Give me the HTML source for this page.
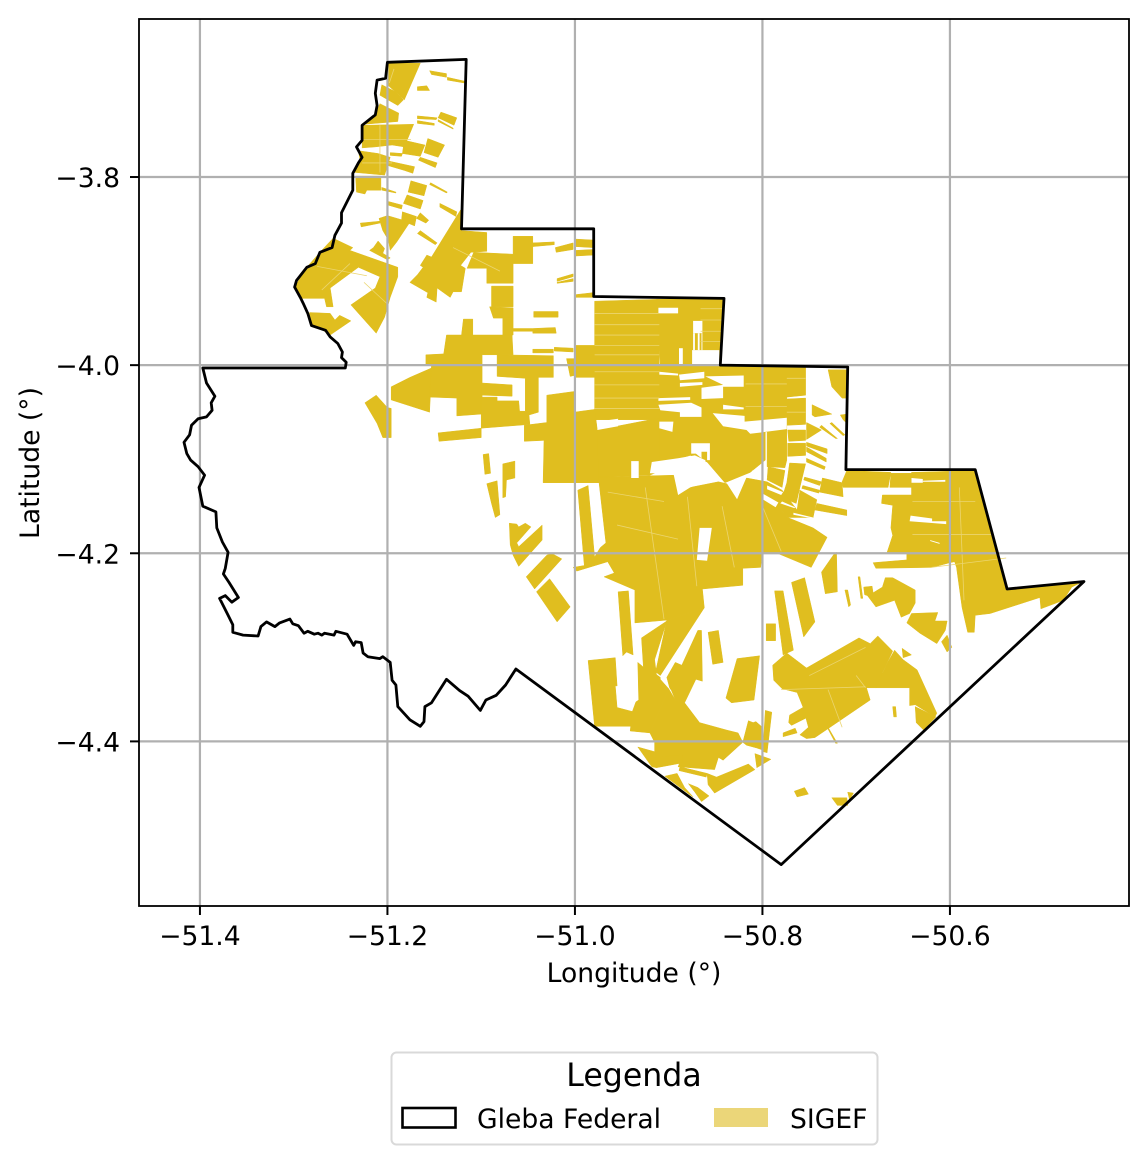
<!DOCTYPE html>
<html lang="en">
<head>
<meta charset="utf-8">
<title>Gleba Federal and SIGEF parcels</title>
<style>
html,body{margin:0;padding:0;background:#fff;}
body{width:1148px;height:1163px;overflow:hidden;}
svg{display:block;font-family:"DejaVu Sans","Liberation Sans",sans-serif;}
text{fill:#000;}
</style>
</head>
<body>
<svg id="chart" xmlns="http://www.w3.org/2000/svg" width="1148" height="1163" viewBox="0 0 1148 1163">
  <rect x="0" y="0" width="1148" height="1163" fill="#fff"/>
  <g id="parcel-layer"></g>
  <g id="grid-layer"></g>
  <g id="boundary-layer"></g>
  <rect x="139" y="19" width="990" height="887" fill="none" stroke="#000" stroke-width="1.8"/>
  <g id="tick-layer" font-size="26.6"></g>
  <text x="634" y="982" font-size="26.6" text-anchor="middle">Longitude (°)</text>
  <text x="39" y="463" font-size="26.6" text-anchor="middle" transform="rotate(-90 39 463)">Latitude (°)</text>
  <g>
    <rect x="391.5" y="1052.5" width="486" height="92" rx="5" ry="5" fill="#fff" stroke="#d9d9d9" stroke-width="2"/>
    <text x="634" y="1086" font-size="31.6" text-anchor="middle">Legenda</text>
    <rect x="402.5" y="1108" width="53" height="19.5" fill="none" stroke="#000" stroke-width="2.6"/>
    <text x="477" y="1128" font-size="26.6">Gleba Federal</text>
    <rect x="714" y="1108" width="54" height="19" fill="#ebd679"/>
    <text x="790" y="1128" font-size="26.6">SIGEF</text>
  </g>
</svg>
<script>
// Axis limits (degrees)
const lonLimits = [-51.465, -50.409];
const latLimits = [-4.575, -3.632];
// Tick values and printed labels
const lonTicks = [-51.4, -51.2, -51.0, -50.8, -50.6];
const lonTickLabels = ["\u221251.4", "\u221251.2", "\u221251.0", "\u221250.8", "\u221250.6"];
const latTicks = [-3.8, -4.0, -4.2, -4.4];
const latTickLabels = ["\u22123.8", "\u22124.0", "\u22124.2", "\u22124.4"];

// Gleba Federal outline: lon, lat, lon, lat...
const glebaOutline = [-51.200,-3.678,-51.116,-3.675,-51.121,-3.855,-50.980,-3.855,-50.980,-3.927,-50.841,-3.929,-50.845,-4.000,-50.709,-4.002,-50.711,-4.111,-50.573,-4.111,-50.539,-4.238,-50.457,-4.230,-50.780,-4.531,-51.063,-4.323,-51.074,-4.340,-51.084,-4.351,-51.095,-4.356,-51.101,-4.367,-51.114,-4.352,-51.123,-4.346,-51.137,-4.334,-51.153,-4.359,-51.160,-4.363,-51.161,-4.379,-51.165,-4.384,-51.176,-4.377,-51.189,-4.363,-51.191,-4.340,-51.195,-4.335,-51.197,-4.316,-51.205,-4.310,-51.208,-4.312,-51.221,-4.310,-51.226,-4.306,-51.228,-4.295,-51.234,-4.294,-51.236,-4.298,-51.243,-4.286,-51.255,-4.283,-51.257,-4.287,-51.267,-4.285,-51.270,-4.287,-51.274,-4.285,-51.278,-4.286,-51.285,-4.283,-51.289,-4.285,-51.295,-4.277,-51.301,-4.275,-51.304,-4.270,-51.315,-4.274,-51.320,-4.278,-51.329,-4.273,-51.335,-4.278,-51.338,-4.288,-51.354,-4.287,-51.365,-4.284,-51.365,-4.276,-51.370,-4.266,-51.379,-4.248,-51.373,-4.245,-51.366,-4.252,-51.359,-4.247,-51.369,-4.231,-51.375,-4.222,-51.373,-4.216,-51.370,-4.199,-51.376,-4.188,-51.382,-4.173,-51.383,-4.156,-51.397,-4.150,-51.401,-4.130,-51.395,-4.117,-51.402,-4.108,-51.410,-4.101,-51.414,-4.094,-51.417,-4.082,-51.411,-4.074,-51.409,-4.064,-51.402,-4.057,-51.393,-4.055,-51.387,-4.048,-51.388,-4.040,-51.384,-4.033,-51.393,-4.019,-51.397,-4.003,-51.245,-4.003,-51.244,-3.997,-51.249,-3.992,-51.248,-3.986,-51.253,-3.977,-51.261,-3.970,-51.266,-3.963,-51.281,-3.958,-51.285,-3.945,-51.290,-3.934,-51.293,-3.928,-51.299,-3.917,-51.297,-3.910,-51.286,-3.896,-51.277,-3.892,-51.272,-3.880,-51.259,-3.875,-51.256,-3.862,-51.249,-3.849,-51.249,-3.838,-51.237,-3.814,-51.237,-3.796,-51.231,-3.785,-51.227,-3.779,-51.233,-3.768,-51.227,-3.761,-51.227,-3.745,-51.213,-3.734,-51.211,-3.724,-51.213,-3.711,-51.211,-3.697,-51.202,-3.695];

// SIGEF parcels: each entry is lon, lat, lon, lat...
const northwestParcels = [
[-51.200,-3.679,-51.165,-3.679,-51.182,-3.718,-51.200,-3.702],
[-51.206,-3.702,-51.192,-3.709,-51.183,-3.718,-51.189,-3.724,-51.208,-3.713],
[-51.208,-3.722,-51.188,-3.732,-51.189,-3.741,-51.225,-3.744,-51.213,-3.734],
[-51.226,-3.745,-51.172,-3.744,-51.182,-3.768,-51.195,-3.766,-51.213,-3.768,-51.227,-3.769],
[-51.231,-3.772,-51.210,-3.775,-51.197,-3.779,-51.203,-3.798,-51.236,-3.795,-51.229,-3.784],
[-51.234,-3.799,-51.207,-3.799,-51.207,-3.814,-51.222,-3.814,-51.224,-3.818,-51.233,-3.816],
[-51.155,-3.687,-51.137,-3.690,-51.137,-3.694,-51.153,-3.691],
[-51.136,-3.694,-51.118,-3.698,-51.118,-3.700,-51.136,-3.697],
[-51.168,-3.704,-51.158,-3.703,-51.155,-3.708,-51.168,-3.708],
[-51.168,-3.735,-51.147,-3.737,-51.148,-3.739,-51.168,-3.738],
[-51.168,-3.740,-51.150,-3.743,-51.150,-3.745,-51.168,-3.743],
[-51.143,-3.731,-51.126,-3.737,-51.129,-3.745,-51.146,-3.737],
[-51.146,-3.739,-51.130,-3.748,-51.130,-3.749,-51.146,-3.741],
[-51.182,-3.761,-51.160,-3.766,-51.165,-3.778,-51.184,-3.775],
[-51.157,-3.759,-51.139,-3.766,-51.146,-3.779,-51.161,-3.774],
[-51.165,-3.779,-51.147,-3.785,-51.149,-3.790,-51.167,-3.782],
[-51.199,-3.783,-51.171,-3.789,-51.173,-3.796,-51.182,-3.793,-51.199,-3.788],
[-51.197,-3.774,-51.184,-3.775,-51.185,-3.778,-51.197,-3.777],
[-51.175,-3.804,-51.158,-3.809,-51.161,-3.820,-51.178,-3.816],
[-51.154,-3.806,-51.136,-3.816,-51.137,-3.817,-51.155,-3.808],
[-51.179,-3.819,-51.162,-3.825,-51.165,-3.834,-51.183,-3.828],
[-51.199,-3.826,-51.184,-3.830,-51.185,-3.834,-51.199,-3.830],
[-51.206,-3.811,-51.191,-3.816,-51.191,-3.817,-51.206,-3.814],
[-51.184,-3.837,-51.169,-3.842,-51.171,-3.852,-51.185,-3.846],
[-51.165,-3.838,-51.156,-3.846,-51.159,-3.849,-51.169,-3.844],
[-51.165,-3.857,-51.147,-3.870,-51.149,-3.872,-51.168,-3.860],
[-51.144,-3.828,-51.126,-3.837,-51.127,-3.842,-51.144,-3.832],
[-51.229,-3.849,-51.208,-3.847,-51.208,-3.849,-51.228,-3.853],
[-51.209,-3.844,-51.200,-3.841,-51.176,-3.848,-51.190,-3.869,-51.197,-3.878,-51.199,-3.867,-51.205,-3.857],
[-51.210,-3.868,-51.203,-3.876,-51.205,-3.881,-51.197,-3.886,-51.200,-3.888,-51.219,-3.878,-51.215,-3.875],
[-51.258,-3.865,-51.237,-3.875,-51.240,-3.878,-51.189,-3.896,-51.189,-3.906,-51.197,-3.928,-51.203,-3.949,-51.212,-3.966,-51.239,-3.936,-51.213,-3.918,-51.208,-3.906,-51.231,-3.896,-51.261,-3.918,-51.258,-3.938,-51.265,-3.938,-51.267,-3.929,-51.291,-3.929,-51.299,-3.917,-51.286,-3.896,-51.272,-3.880],
[-51.283,-3.944,-51.261,-3.945,-51.256,-3.952,-51.251,-3.947,-51.239,-3.953,-51.261,-3.968,-51.269,-3.963,-51.281,-3.958]
];
const northCentralParcels = [
[-51.122,-3.835,-51.121,-3.857,-51.094,-3.859,-51.094,-3.879,-51.111,-3.880,-51.122,-3.894,-51.117,-3.897,-51.121,-3.922,-51.130,-3.922,-51.133,-3.928,-51.147,-3.918,-51.148,-3.933,-51.158,-3.928,-51.157,-3.923,-51.176,-3.912,-51.168,-3.904,-51.162,-3.896,-51.165,-3.894,-51.158,-3.883,-51.153,-3.885],
[-51.108,-3.880,-51.066,-3.882,-51.066,-3.913,-51.094,-3.913,-51.094,-3.897,-51.115,-3.897],
[-51.066,-3.863,-51.045,-3.863,-51.045,-3.892,-51.066,-3.892],
[-51.045,-3.870,-51.022,-3.869,-51.022,-3.872,-51.045,-3.874],
[-51.021,-3.875,-51.002,-3.870,-51.002,-3.877,-51.020,-3.880],
[-50.999,-3.866,-50.981,-3.867,-50.981,-3.875,-50.999,-3.874],
[-50.999,-3.878,-50.981,-3.877,-50.981,-3.883,-50.999,-3.884],
[-51.019,-3.908,-51.002,-3.903,-51.002,-3.906,-51.019,-3.911],
[-51.019,-3.912,-51.002,-3.908,-51.002,-3.911,-51.019,-3.913],
[-50.999,-3.925,-50.981,-3.923,-50.981,-3.928,-50.999,-3.928],
[-51.089,-3.916,-51.066,-3.916,-51.066,-3.938,-51.089,-3.938],
[-51.091,-3.938,-51.066,-3.939,-51.066,-3.950,-51.087,-3.950],
[-51.077,-3.950,-51.066,-3.950,-51.066,-3.968,-51.077,-3.968],
[-51.044,-3.943,-51.018,-3.943,-51.018,-3.949,-51.044,-3.949],
[-51.066,-3.961,-51.045,-3.961,-51.045,-3.964,-51.066,-3.964],
[-51.045,-3.961,-51.021,-3.960,-51.020,-3.966,-51.045,-3.966],
[-51.119,-3.951,-51.109,-3.951,-51.109,-3.968,-51.121,-3.968],
[-51.137,-3.968,-51.067,-3.968,-51.066,-3.989,-51.099,-3.989,-51.099,-4.000,-51.159,-3.999,-51.159,-3.989,-51.140,-3.988],
[-51.153,-4.003,-51.155,-4.050,-51.196,-4.037,-51.196,-4.023,-51.176,-4.013],
[-51.153,-4.000,-51.099,-4.000,-51.099,-4.034,-51.100,-4.052,-51.126,-4.054,-51.126,-4.035,-51.155,-4.034],
[-51.099,-4.019,-51.067,-4.021,-51.067,-4.033,-51.099,-4.032],
[-51.083,-3.989,-51.023,-3.990,-51.023,-4.013,-51.039,-4.013,-51.039,-4.050,-51.049,-4.053,-51.048,-4.063,-51.100,-4.067,-51.100,-4.034,-51.083,-4.034,-51.083,-4.038,-51.060,-4.038,-51.059,-4.049,-51.053,-4.049,-51.053,-4.014,-51.083,-4.012],
[-51.045,-3.983,-51.023,-3.983,-51.023,-3.987,-51.045,-3.987],
[-51.022,-3.981,-51.002,-3.982,-51.002,-3.986,-51.022,-3.985],
[-51.009,-3.993,-51.001,-3.993,-51.001,-4.011,-51.005,-4.012],
[-51.000,-3.979,-50.979,-3.979,-50.979,-4.013,-51.000,-4.013]
];
const centralParcels = [
[-50.979,-3.932,-50.910,-3.930,-50.910,-4.058,-50.979,-4.058],
[-51.030,-4.032,-51.001,-4.028,-51.001,-4.050,-50.979,-4.047,-50.976,-4.069,-50.909,-4.058,-50.909,-4.069,-50.973,-4.125,-51.034,-4.125,-51.033,-4.080,-51.054,-4.081,-51.054,-4.064,-51.030,-4.061],
[-50.976,-4.069,-50.909,-4.056,-50.909,-4.112,-50.920,-4.117,-50.975,-4.119],
[-50.975,-4.119,-50.894,-4.117,-50.890,-4.138,-50.877,-4.130,-50.847,-4.124,-50.838,-4.126,-50.827,-4.143,-50.800,-4.147,-50.783,-4.151,-50.773,-4.162,-50.746,-4.173,-50.731,-4.183,-50.748,-4.215,-50.784,-4.200,-50.800,-4.200,-50.802,-4.215,-50.821,-4.216,-50.821,-4.234,-50.864,-4.238,-50.862,-4.258,-50.902,-4.271,-50.936,-4.274,-50.936,-4.239,-50.969,-4.225,-50.958,-4.221,-50.965,-4.209,-50.998,-4.219,-51.002,-4.215,-50.990,-4.213,-50.979,-4.204,-50.973,-4.194,-50.967,-4.189],
[-50.997,-4.133,-50.986,-4.128,-50.979,-4.204,-50.990,-4.213],
[-50.913,-3.930,-50.842,-3.930,-50.846,-3.999,-50.909,-3.999],
[-50.910,-4.000,-50.774,-4.002,-50.774,-4.069,-50.797,-4.071,-50.797,-4.101,-50.813,-4.114,-50.840,-4.125,-50.859,-4.103,-50.877,-4.096,-50.910,-4.106],
[-50.774,-4.002,-50.754,-4.002,-50.754,-4.032,-50.774,-4.034],
[-50.774,-4.036,-50.754,-4.035,-50.754,-4.063,-50.774,-4.064],
[-50.773,-4.069,-50.754,-4.069,-50.754,-4.080,-50.772,-4.081],
[-50.773,-4.083,-50.754,-4.083,-50.754,-4.096,-50.773,-4.097],
[-50.771,-4.104,-50.754,-4.105,-50.760,-4.130,-50.764,-4.147,-50.779,-4.141,-50.774,-4.125],
[-50.760,-4.133,-50.742,-4.143,-50.746,-4.162,-50.763,-4.154],
[-50.795,-4.069,-50.774,-4.069,-50.774,-4.101,-50.776,-4.109,-50.795,-4.108,-50.795,-4.090],
[-50.794,-4.108,-50.776,-4.112,-50.779,-4.130,-50.795,-4.122],
[-50.817,-4.120,-50.795,-4.124,-50.779,-4.133,-50.763,-4.154,-50.746,-4.162,-50.773,-4.162,-50.783,-4.151,-50.800,-4.147,-50.827,-4.143]
];
const easternParcels = [
[-50.730,-4.005,-50.710,-4.005,-50.711,-4.035,-50.715,-4.035,-50.726,-4.023],
[-50.747,-4.042,-50.726,-4.052,-50.744,-4.055,-50.747,-4.053],
[-50.717,-4.053,-50.710,-4.052,-50.711,-4.061,-50.714,-4.058],
[-50.737,-4.064,-50.720,-4.078,-50.722,-4.078,-50.739,-4.066],
[-50.753,-4.061,-50.737,-4.069,-50.753,-4.079],
[-50.726,-4.061,-50.712,-4.074,-50.714,-4.075,-50.728,-4.062],
[-50.753,-4.082,-50.731,-4.089,-50.731,-4.094,-50.753,-4.086],
[-50.753,-4.087,-50.732,-4.099,-50.732,-4.103,-50.753,-4.092],
[-50.753,-4.099,-50.733,-4.108,-50.734,-4.111,-50.753,-4.103],
[-50.755,-4.119,-50.737,-4.124,-50.739,-4.128,-50.756,-4.122],
[-50.757,-4.128,-50.739,-4.133,-50.740,-4.136,-50.758,-4.131],
[-50.736,-4.120,-50.715,-4.125,-50.714,-4.140,-50.739,-4.135],
[-50.742,-4.147,-50.710,-4.154,-50.710,-4.160,-50.744,-4.154],
[-50.710,-4.112,-50.663,-4.114,-50.666,-4.130,-50.714,-4.130,-50.715,-4.124],
[-50.663,-4.115,-50.641,-4.115,-50.641,-4.130,-50.664,-4.130],
[-50.641,-4.114,-50.573,-4.112,-50.539,-4.237,-50.483,-4.234,-50.458,-4.230,-50.470,-4.236,-50.479,-4.250,-50.503,-4.259,-50.504,-4.247,-50.557,-4.264,-50.573,-4.266,-50.574,-4.284,-50.581,-4.284,-50.587,-4.258,-50.593,-4.215,-50.595,-4.209,-50.600,-4.210,-50.619,-4.215,-50.679,-4.216,-50.682,-4.210,-50.646,-4.207,-50.646,-4.199,-50.667,-4.199,-50.661,-4.181,-50.663,-4.173,-50.661,-4.149,-50.673,-4.147,-50.672,-4.138,-50.641,-4.138,-50.641,-4.130],
[-50.737,-4.220,-50.723,-4.200,-50.721,-4.199,-50.720,-4.241,-50.733,-4.243],
[-50.712,-4.239,-50.709,-4.239,-50.706,-4.255,-50.708,-4.257],
[-50.698,-4.225,-50.696,-4.225,-50.693,-4.248,-50.695,-4.248],
[-50.692,-4.236,-50.683,-4.235,-50.682,-4.242,-50.672,-4.236,-50.669,-4.226,-50.661,-4.226,-50.637,-4.239,-50.637,-4.253,-50.643,-4.264,-50.652,-4.268,-50.659,-4.250,-50.679,-4.257,-50.688,-4.245,-50.691,-4.244],
[-50.641,-4.264,-50.613,-4.263,-50.616,-4.272,-50.603,-4.272,-50.605,-4.282,-50.614,-4.296,-50.632,-4.285,-50.646,-4.274],
[-50.603,-4.287,-50.598,-4.300,-50.603,-4.305,-50.609,-4.294],
[-50.789,-4.319,-50.774,-4.306,-50.753,-4.322,-50.697,-4.290,-50.685,-4.296,-50.677,-4.288,-50.661,-4.304,-50.672,-4.327,-50.668,-4.335,-50.679,-4.343,-50.689,-4.343,-50.685,-4.356,-50.744,-4.396,-50.753,-4.397,-50.760,-4.393,-50.751,-4.385,-50.757,-4.363,-50.763,-4.348,-50.779,-4.344,-50.788,-4.335],
[-50.667,-4.317,-50.659,-4.303,-50.650,-4.313,-50.635,-4.324,-50.614,-4.370,-50.616,-4.374,-50.637,-4.361,-50.643,-4.362,-50.643,-4.343,-50.679,-4.343],
[-50.637,-4.363,-50.615,-4.374,-50.628,-4.388,-50.636,-4.380],
[-50.651,-4.301,-50.650,-4.311,-50.641,-4.308],
[-50.661,-4.363,-50.658,-4.363,-50.657,-4.374,-50.660,-4.374],
[-50.730,-4.385,-50.720,-4.402,-50.722,-4.402,-50.731,-4.385],
[-50.771,-4.372,-50.757,-4.364,-50.751,-4.374,-50.769,-4.383,-50.772,-4.380],
[-50.778,-4.391,-50.765,-4.386,-50.763,-4.391,-50.778,-4.395]
];
const southernParcels = [
[-51.041,-4.241,-51.027,-4.227,-51.005,-4.257,-51.019,-4.273],
[-51.052,-4.225,-51.030,-4.202,-51.025,-4.200,-51.014,-4.206,-51.043,-4.238],
[-51.070,-4.168,-51.062,-4.169,-51.060,-4.172,-51.053,-4.168,-51.047,-4.172,-51.062,-4.189,-51.060,-4.193,-51.035,-4.170,-51.035,-4.186,-51.060,-4.214,-51.066,-4.202,-51.069,-4.191],
[-51.098,-4.095,-51.092,-4.094,-51.090,-4.115,-51.096,-4.116],
[-51.077,-4.105,-51.064,-4.102,-51.064,-4.120,-51.077,-4.123],
[-51.077,-4.123,-51.073,-4.122,-51.074,-4.140,-51.077,-4.141],
[-51.094,-4.126,-51.083,-4.123,-51.080,-4.159,-51.085,-4.162,-51.089,-4.147],
[-51.146,-4.072,-51.100,-4.067,-51.100,-4.077,-51.145,-4.081],
[-51.224,-4.040,-51.212,-4.032,-51.200,-4.045,-51.196,-4.046,-51.196,-4.077,-51.205,-4.077,-51.211,-4.062],
[-50.954,-4.241,-50.943,-4.240,-50.938,-4.308,-50.945,-4.305,-50.949,-4.309],
[-50.986,-4.314,-50.957,-4.311,-50.955,-4.341,-50.957,-4.341,-50.955,-4.364,-50.936,-4.369,-50.938,-4.384,-50.979,-4.384],
[-50.929,-4.290,-50.902,-4.272,-50.915,-4.313,-50.913,-4.329,-50.909,-4.332,-50.909,-4.334,-50.900,-4.344,-50.920,-4.391,-50.941,-4.389,-50.939,-4.369,-50.935,-4.358,-50.932,-4.356,-50.933,-4.316,-50.927,-4.321],
[-50.902,-4.271,-50.862,-4.258,-50.909,-4.330,-50.914,-4.326],
[-50.865,-4.282,-50.864,-4.336,-50.871,-4.334,-50.883,-4.359,-50.893,-4.356,-50.897,-4.346,-50.899,-4.343,-50.902,-4.332,-50.893,-4.316,-50.886,-4.319,-50.869,-4.282],
[-50.858,-4.284,-50.847,-4.282,-50.842,-4.316,-50.853,-4.318],
[-50.827,-4.312,-50.803,-4.309,-50.809,-4.356,-50.833,-4.359,-50.839,-4.354],
[-50.900,-4.344,-50.893,-4.356,-50.883,-4.359,-50.867,-4.380,-50.838,-4.388,-50.826,-4.391,-50.821,-4.401,-50.842,-4.420,-50.847,-4.417,-50.851,-4.430,-50.890,-4.427,-50.888,-4.422,-50.915,-4.417,-50.915,-4.401,-50.920,-4.391],
[-50.933,-4.406,-50.915,-4.411,-50.915,-4.417,-50.885,-4.414,-50.886,-4.423,-50.913,-4.428,-50.918,-4.427],
[-50.904,-4.437,-50.891,-4.434,-50.883,-4.449,-50.874,-4.459,-50.877,-4.457],
[-50.879,-4.445,-50.869,-4.449,-50.857,-4.458,-50.865,-4.464,-50.872,-4.454],
[-50.888,-4.427,-50.859,-4.434,-50.860,-4.438,-50.889,-4.431],
[-50.859,-4.434,-50.849,-4.438,-50.815,-4.424,-50.808,-4.430,-50.851,-4.455,-50.858,-4.446],
[-50.821,-4.401,-50.815,-4.378,-50.810,-4.380,-50.807,-4.379,-50.800,-4.385,-50.800,-4.409,-50.806,-4.407,-50.817,-4.404],
[-50.799,-4.401,-50.797,-4.367,-50.790,-4.369,-50.795,-4.412,-50.799,-4.411],
[-50.808,-4.413,-50.791,-4.419,-50.806,-4.428],
[-50.766,-4.453,-50.755,-4.449,-50.751,-4.456,-50.763,-4.459],
[-50.726,-4.460,-50.710,-4.460,-50.709,-4.468,-50.720,-4.468],
[-50.709,-4.454,-50.703,-4.455,-50.707,-4.462],
[-50.796,-4.275,-50.786,-4.275,-50.786,-4.293,-50.796,-4.293],
[-50.787,-4.240,-50.778,-4.240,-50.767,-4.303,-50.778,-4.308],
[-50.769,-4.231,-50.755,-4.226,-50.744,-4.273,-50.756,-4.289]
];
// Unclaimed clearings inside parcel blocks
const clearings = [
[-50.976,-4.060,-50.954,-4.057,-50.954,-4.065,-50.976,-4.069],
[-50.867,-4.173,-50.854,-4.173,-50.859,-4.208,-50.870,-4.207],
[-50.911,-3.939,-50.890,-3.939,-50.890,-3.945,-50.911,-3.945],
[-50.874,-3.953,-50.864,-3.953,-50.864,-3.966,-50.874,-3.966],
[-50.874,-3.966,-50.872,-3.966,-50.872,-3.984,-50.874,-3.984],
[-50.869,-3.966,-50.867,-3.966,-50.867,-3.984,-50.869,-3.984],
[-50.865,-3.966,-50.864,-3.966,-50.864,-3.984,-50.865,-3.984],
[-50.889,-3.982,-50.885,-3.982,-50.885,-3.999,-50.889,-3.999],
[-50.875,-3.984,-50.846,-3.984,-50.846,-3.999,-50.875,-3.999],
[-50.910,-4.007,-50.890,-4.009,-50.890,-4.011,-50.910,-4.010],
[-50.889,-4.010,-50.862,-4.007,-50.862,-4.014,-50.888,-4.016],
[-50.888,-4.019,-50.864,-4.018,-50.864,-4.021,-50.888,-4.023],
[-50.861,-4.012,-50.820,-4.011,-50.820,-4.023,-50.842,-4.023,-50.842,-4.035,-50.865,-4.036,-50.865,-4.024,-50.842,-4.021],
[-50.842,-4.042,-50.820,-4.045,-50.820,-4.047,-50.842,-4.047],
[-50.911,-4.035,-50.877,-4.034,-50.877,-4.037,-50.911,-4.038],
[-50.911,-4.042,-50.876,-4.040,-50.865,-4.045,-50.865,-4.055,-50.888,-4.055,-50.888,-4.050,-50.909,-4.048],
[-50.910,-4.060,-50.895,-4.060,-50.896,-4.071,-50.910,-4.067],
[-50.853,-4.051,-50.819,-4.054,-50.819,-4.060,-50.774,-4.056,-50.774,-4.068,-50.797,-4.071,-50.813,-4.073,-50.817,-4.069,-50.842,-4.065],
[-50.876,-4.083,-50.856,-4.083,-50.856,-4.101,-50.859,-4.101,-50.859,-4.092,-50.865,-4.092,-50.865,-4.099,-50.871,-4.094,-50.876,-4.094],
[-50.918,-4.103,-50.890,-4.099,-50.872,-4.096,-50.861,-4.101,-50.859,-4.124,-50.877,-4.130,-50.890,-4.138,-50.895,-4.115,-50.920,-4.115],
[-50.940,-4.102,-50.932,-4.102,-50.932,-4.120,-50.940,-4.120],
[-50.811,-4.112,-50.795,-4.119,-50.795,-4.120,-50.811,-4.115],
[-50.795,-4.128,-50.778,-4.135,-50.780,-4.138,-50.795,-4.132],
[-50.799,-4.137,-50.783,-4.146,-50.786,-4.151,-50.799,-4.143],
[-50.779,-4.145,-50.765,-4.151,-50.766,-4.152,-50.781,-4.147],
[-50.767,-4.157,-50.746,-4.162,-50.746,-4.163,-50.767,-4.159],
[-50.641,-4.120,-50.629,-4.121,-50.629,-4.125,-50.641,-4.125],
[-50.629,-4.123,-50.605,-4.122,-50.605,-4.124,-50.629,-4.124],
[-50.642,-4.160,-50.619,-4.163,-50.619,-4.166,-50.604,-4.166,-50.604,-4.169,-50.643,-4.166],
[-50.621,-4.186,-50.611,-4.189,-50.611,-4.190,-50.621,-4.187]
];
// Parcel divisions: lon1, lat1, lon2, lat2
const parcelDivisions = [
[-50.979,-3.945,-50.910,-3.945],[-50.979,-3.957,-50.910,-3.957],[-50.979,-3.968,-50.910,-3.968],[-50.979,-3.979,-50.910,-3.979],[-50.979,-3.989,-50.910,-3.989],[-50.979,-4.007,-50.910,-4.007],[-50.979,-4.021,-50.910,-4.021],[-50.979,-4.035,-50.910,-4.035],[-50.979,-4.046,-50.910,-4.046],
[-50.866,-3.940,-50.842,-3.940],[-50.866,-3.952,-50.842,-3.952],[-50.866,-3.964,-50.842,-3.964],[-50.866,-3.975,-50.844,-3.975],
[-50.818,-4.020,-50.774,-4.020],[-50.818,-4.044,-50.774,-4.044],[-50.774,-4.014,-50.754,-4.014],[-50.774,-4.050,-50.754,-4.050],
[-50.843,-4.150,-50.830,-4.215],[-50.880,-4.140,-50.870,-4.235],[-50.925,-4.130,-50.905,-4.270],[-50.965,-4.135,-50.905,-4.145],[-50.955,-4.170,-50.890,-4.185],[-50.800,-4.150,-50.780,-4.198],
[-50.640,-4.145,-50.573,-4.145],[-50.640,-4.180,-50.553,-4.180],[-50.590,-4.130,-50.585,-4.250],[-50.620,-4.215,-50.540,-4.205],
[-50.750,-4.330,-50.690,-4.300],[-50.780,-4.345,-50.690,-4.342],[-50.730,-4.345,-50.715,-4.385],[-50.700,-4.330,-50.690,-4.343],
[-51.275,-3.895,-51.222,-3.905],[-51.270,-3.920,-51.240,-3.892],[-51.225,-3.912,-51.200,-3.935],[-51.130,-3.875,-51.080,-3.900],
[-51.227,-3.760,-51.175,-3.760],[-51.227,-3.785,-51.195,-3.785],[-51.208,-3.745,-51.208,-3.795],[-51.193,-3.685,-51.198,-3.700]
];

const svgNS = "http://www.w3.org/2000/svg";
function xScale(lon) { return 139 + (lon - lonLimits[0]) / (lonLimits[1] - lonLimits[0]) * 990; }
function yScale(lat) { return 19 + (latLimits[1] - lat) / (latLimits[1] - latLimits[0]) * 887; }
function ringPoints(ring) {
  const out = [];
  for (let i = 0; i < ring.length; i += 2) {
    out.push(xScale(ring[i]).toFixed(1) + "," + yScale(ring[i + 1]).toFixed(1));
  }
  return out.join(" ");
}
const parcelLayer = document.getElementById("parcel-layer");
const gridLayer = document.getElementById("grid-layer");
const boundaryLayer = document.getElementById("boundary-layer");
const tickLayer = document.getElementById("tick-layer");

[northwestParcels, northCentralParcels, centralParcels, easternParcels, southernParcels].forEach(function (group) {
  group.forEach(function (ring) {
    const el = document.createElementNS(svgNS, "polygon");
    el.setAttribute("points", ringPoints(ring));
    el.setAttribute("fill", "#e0be1f");
    el.setAttribute("stroke", "#e0be1f");
    el.setAttribute("stroke-width", "0.5");
    
    
    parcelLayer.appendChild(el);
  });
});
clearings.forEach(function (ring) {
  const el = document.createElementNS(svgNS, "polygon");
  el.setAttribute("points", ringPoints(ring));
  el.setAttribute("fill", "#fff");
  
  
  parcelLayer.appendChild(el);
});
parcelDivisions.forEach(function (seg) {
  const el = document.createElementNS(svgNS, "line");
  el.setAttribute("x1", xScale(seg[0]));
  el.setAttribute("y1", yScale(seg[1]));
  el.setAttribute("x2", xScale(seg[2]));
  el.setAttribute("y2", yScale(seg[3]));
  el.setAttribute("stroke", "#ebd56f");
  el.setAttribute("stroke-width", "0.8");
  
  
  parcelLayer.appendChild(el);
});

lonTicks.forEach(function (lon, i) {
  const x = xScale(lon);
  const grid = document.createElementNS(svgNS, "line");
  grid.setAttribute("x1", x); grid.setAttribute("x2", x);
  grid.setAttribute("y1", 19); grid.setAttribute("y2", 906);
  grid.setAttribute("stroke", "#b0b0b0");
  grid.setAttribute("stroke-width", "2.2");
  
  
  gridLayer.appendChild(grid);
  const tick = document.createElementNS(svgNS, "line");
  tick.setAttribute("x1", x); tick.setAttribute("x2", x);
  tick.setAttribute("y1", 906); tick.setAttribute("y2", 915);
  tick.setAttribute("stroke", "#000");
  tick.setAttribute("stroke-width", "2");
  
  
  tickLayer.appendChild(tick);
  const label = document.createElementNS(svgNS, "text");
  label.setAttribute("x", x);
  label.setAttribute("y", 945);
  label.setAttribute("text-anchor", "middle");
  label.textContent = lonTickLabels[i];
  
  
  tickLayer.appendChild(label);
});
latTicks.forEach(function (lat, i) {
  const y = yScale(lat);
  const grid = document.createElementNS(svgNS, "line");
  grid.setAttribute("x1", 139); grid.setAttribute("x2", 1129);
  grid.setAttribute("y1", y); grid.setAttribute("y2", y);
  grid.setAttribute("stroke", "#b0b0b0");
  grid.setAttribute("stroke-width", "2.2");
  
  
  gridLayer.appendChild(grid);
  const tick = document.createElementNS(svgNS, "line");
  tick.setAttribute("x1", 130); tick.setAttribute("x2", 139);
  tick.setAttribute("y1", y); tick.setAttribute("y2", y);
  tick.setAttribute("stroke", "#000");
  tick.setAttribute("stroke-width", "2");
  
  
  tickLayer.appendChild(tick);
  const label = document.createElementNS(svgNS, "text");
  label.setAttribute("x", 120);
  label.setAttribute("y", y + 10);
  label.setAttribute("text-anchor", "end");
  label.textContent = latTickLabels[i];
  
  
  tickLayer.appendChild(label);
});

const outline = document.createElementNS(svgNS, "polygon");
outline.setAttribute("points", ringPoints(glebaOutline));
outline.setAttribute("fill", "none");
outline.setAttribute("stroke", "#000");
outline.setAttribute("stroke-width", "2.8");
outline.setAttribute("stroke-linejoin", "round");


boundaryLayer.appendChild(outline);
</script>
</body>
</html>
